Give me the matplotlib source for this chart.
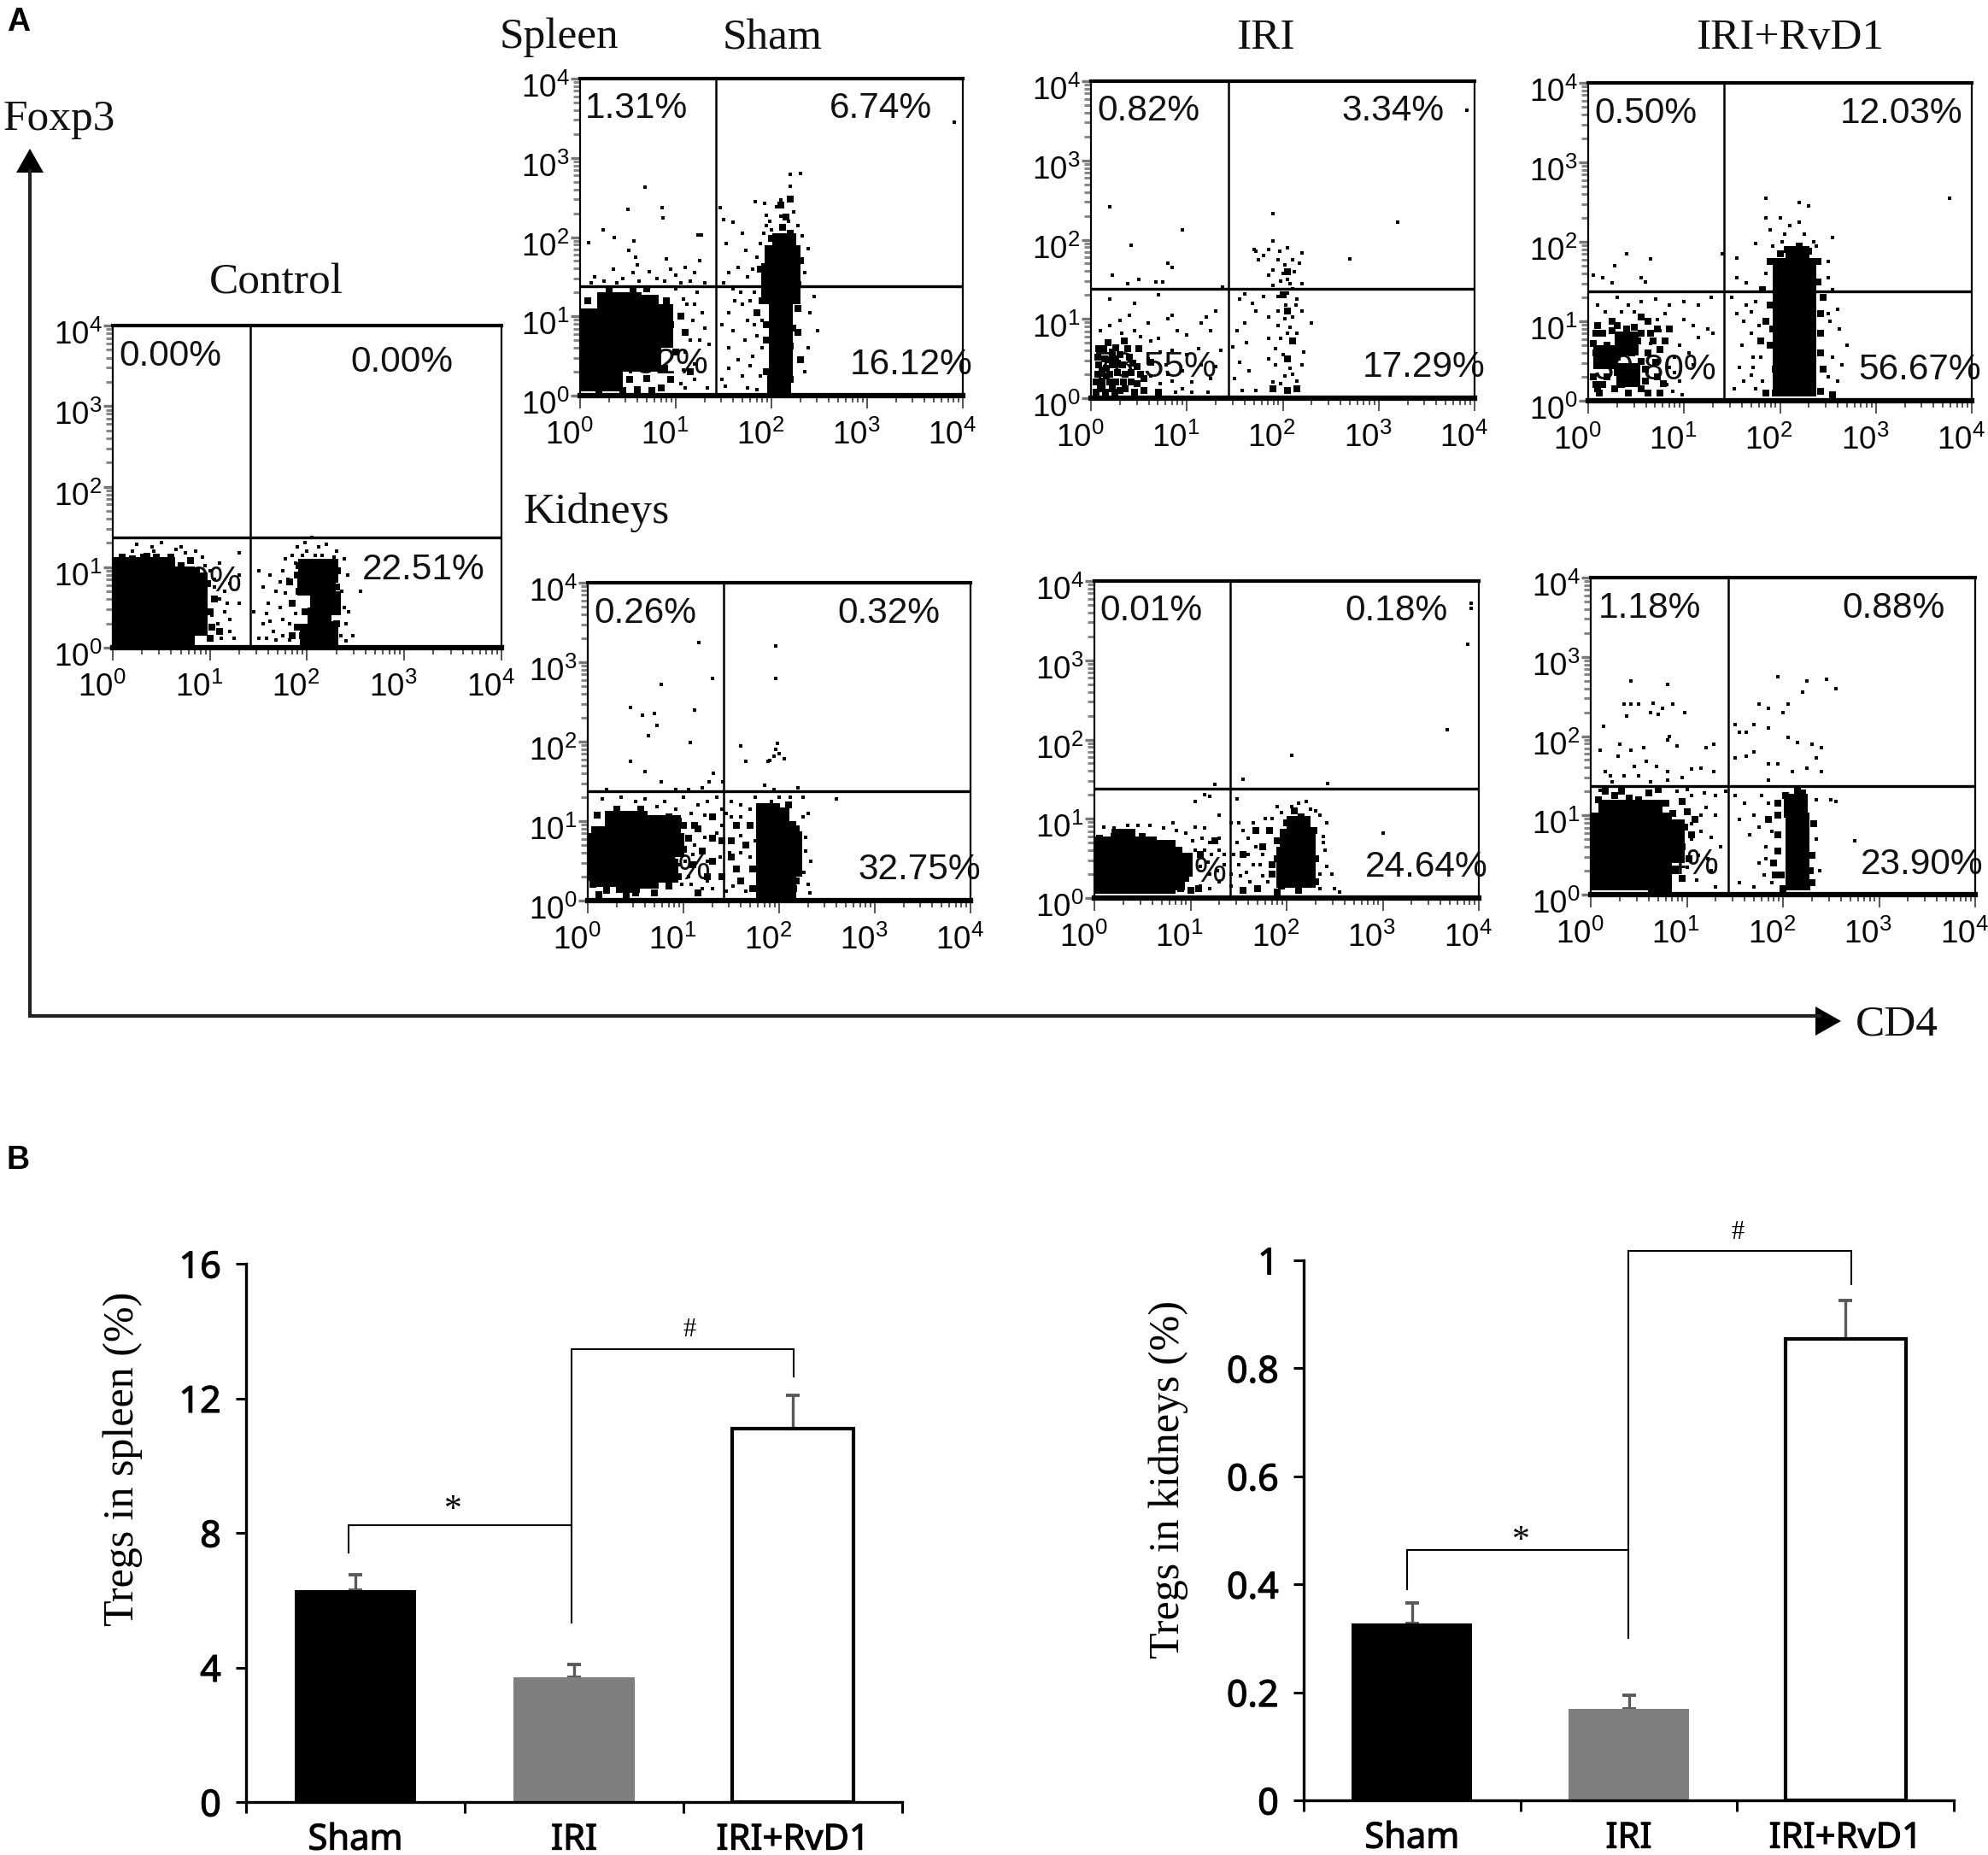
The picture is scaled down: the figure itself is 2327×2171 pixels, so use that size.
import numpy as np
import matplotlib
matplotlib.use('Agg')
import matplotlib.pyplot as plt
import matplotlib.patheffects as pe
from matplotlib.ticker import LogLocator, NullFormatter
from matplotlib.transforms import ScaledTranslation

W, H = 2327, 2171

plt.rcParams['mathtext.fontset'] = 'custom'
plt.rcParams['mathtext.rm'] = 'Liberation Sans'
plt.rcParams['font.family'] = ['Liberation Sans', 'DejaVu Sans']

# bar chart values
groups = ['Sham', 'IRI', 'IRI+RvD1']
spleen_means = [6.3, 3.7, 11.1]
spleen_errs = [0.45, 0.4, 1.0]
kidney_means = [0.327, 0.17, 0.855]
kidney_errs = [0.038, 0.025, 0.07]
bar_colors = ['black', '#7f7f7f', 'white']

# flow plots, all points given as (log10 CD4, log10 Foxp3)
# core = solid areas, clump = groups of events, dot = single events
control_core = [(.12,.18),(.32,.18),(.52,.18),(.72,.18),(.12,.42),(.32,.42),(.52,.42),(.72,.42),
                (.12,.66),(.32,.66),(.52,.66),(.72,.66),(.12,.86),(.32,.86),(.52,.86),(.72,.86),
                (.85,.3),(.85,.55),(.85,.78),(.12,.98),(.32,.98),(.52,.98),
                (2.13,.35),(2.15,.6),(2.17,.82),(2.02,.8),(2.22,.55),(2.05,.15),(2.2,.18),(2.2,.95),(2.03,.95)]
control_clump = [(.88,.3),(.9,.55),(.88,.75),(.86,.95),(.2,1.1),(.45,1.12),(.7,1.02),(1.92,.7),(1.9,.9),
                 (1.98,.45),(2.25,.15),(2.1,.13),(1.9,.25),(2.3,.3),(2.3,.75),(2.31,.95),(2.1,1.03),(1.85,.15),
                 (.35,1.14),(.6,1.12),(.8,1.08),(.98,.8),(1.0,.45),(1.05,.6),(1.1,.2),(1.85,.55),(1.95,.15),(2.0,1.05),
                 (.1,1.12),(1.92,1.02),(2.24,1.05),(1.82,.82),(1.02,.25),(1.0,.12)]
control_dot = [(.5,1.3),(.42,1.2),(.3,1.15),(.2,1.2),(.6,1.15),(.75,1.18),(.85,1.2),(.92,1.12),(1.0,.95),
               (1.05,.75),(1.1,.6),(1.15,.45),(1.02,.4),(1.08,.3),(1.2,.2),(1.25,.12),(1.3,.55),(1.3,.9),
               (1.3,1.18),(1.1,1.05),(1.2,.8),(1.5,.95),(1.55,.75),(1.62,.9),(1.68,.7),(1.6,.55),(1.72,.5),
               (1.55,.3),(1.65,.2),(1.5,.12),(1.75,.95),(1.8,.85),(1.78,1.1),(1.85,1.15),(1.9,1.25),(2.0,1.2),
               (2.12,1.25),(2.2,1.28),(2.3,1.2),(2.42,.9),(2.43,.45),(2.47,.15),(2.4,.3),(2.55,.7),(2.38,1.1),
               (1.45,.45),(1.58,.42),(1.82,.3),(1.75,.15),(2.05,1.37),
               (.25,1.28),(.65,1.22),(.4,1.25),(.7,1.25),(.95,1.02),(1.05,.85),(1.15,.7),(1.12,.12),(1.2,.35),(1.18,.55),
               (1.78,.68),(1.75,.35),(1.68,.1),(1.62,.33),(1.72,.82),(1.88,1.05),(1.95,1.15),(2.08,1.15),(2.15,1.15),(2.28,1.12),
               (2.36,.7),(2.38,.5),(2.35,.15),(2.4,.08),(1.82,.1),(1.88,.42),(1.58,.12),(1.98,1.3)]

spleen_sham_core = [(.12,.2),(.32,.2),(.12,.45),(.32,.45),(.52,.45),(.72,.45),(.12,.7),(.32,.7),(.52,.7),(.72,.7),
                    (.12,.95),(.32,.95),(.52,.95),(.72,.95),(.3,1.15),(.52,1.15),(.7,1.12),(.85,.75),(.85,1.0),
                    (2.1,.85),(2.1,1.08),(2.02,1.3),(2.18,1.3),(2.02,1.52),(2.18,1.52),(2.05,1.75),(2.18,1.75),(2.13,1.9),
                    (2.1,.62),(2.1,.4),(2.08,.18)]
spleen_sham_clump = [(.52,.2),(.7,.22),(.88,.35),(.08,1.2),(.95,.9),(1.0,.55),(2.05,.1),(2.1,.25),(2.02,.4),(2.18,.4),
                     (2.05,.55),(2.2,.62),(1.95,.7),(2.28,.8),(2.28,1.1),(2.28,1.4),(2.3,1.7),(1.9,1.2),(1.88,1.6),
                     (2.0,1.98),(2.2,2.05),(2.12,2.12),(.45,.07),(.2,.07),(.75,.07),(.7,1.35),(.55,1.32),(.3,1.33),
                     (.9,1.2),(1.05,1.0),(1.1,.8),(.95,.2),(1.15,.3),(.85,.1),(2.2,.2),(1.95,.3),(2.22,.85),(2.15,2.25),(2.1,2.4),
                     (2.2,2.48),(.6,.08),(1.95,.9),(1.85,1.05),(2.3,.45),(2.02,.72)]
spleen_sham_dot = [(.68,2.63),(.5,2.35),(.86,2.37),(.87,2.24),(.24,2.09),(.09,1.93),(.36,1.99),(.56,1.95),(.51,1.83),
                   (1.23,2.03),(1.27,2.03),(3.91,3.45),(1.46,2.37),(1.5,2.22),(1.6,2.19),(1.83,2.45),(1.93,2.43),
                   (2.1,2.47),(2.2,2.64),(2.2,2.79),(2.3,2.8),(2.1,2.26),(2.23,2.32),(2.0,2.09),(1.7,2.05),(1.53,1.92),
                   (1.73,1.83),(.35,1.6),(.55,1.55),(.6,1.65),(.58,1.75),(.9,1.72),(.95,1.6),(1.0,1.52),(1.1,1.62),(1.2,1.55),
                   (1.05,1.42),(.8,1.48),(.72,1.56),(.45,1.48),(.25,1.45),(.12,1.42),(1.15,1.45),(1.3,1.42),(1.25,1.7),
                   (1.55,1.55),(1.65,1.62),(1.75,1.5),(1.85,1.75),(1.8,1.6),(1.5,1.42),(1.62,1.2),(1.55,1.05),(1.7,1.15),
                   (1.75,.95),(1.48,.9),(1.6,.82),(1.72,.7),(1.55,.6),(1.8,.5),(1.48,.2),(1.52,.12),(1.7,.25),(1.75,.1),
                   (1.85,.08),(1.12,1.15),(1.18,.95),(1.28,1.05),(1.3,.85),(1.15,.7),(1.08,.32),(1.2,.4),(1.35,.65),
                   (1.2,.2),(1.33,.1),(2.45,1.25),(2.48,.82),(1.9,.95),(1.82,1.3),(2.35,.3),(2.38,.6),(2.4,1.05),(2.35,1.55),
                   (2.38,1.85),(1.95,2.28),(2.05,2.38),(2.18,2.2),
                   (.15,1.5),(.38,1.42),(.62,1.45),(.88,1.45),(1.0,1.35),(1.22,1.3),(1.08,1.22),(1.2,1.15),(1.1,.55),(1.25,.7),
                   (1.05,.15),(1.1,.1),(1.6,1.35),(1.68,1.3),(1.78,1.2),(1.82,.9),(1.85,.75),(1.78,.38),(1.88,.25),(1.9,.6),(1.65,.45),
                   (1.55,.35),(1.92,2.05),(1.95,2.15),(2.28,2.15),(2.32,2.02),(1.88,1.92),(1.98,2.2)]

spleen_iri_core = []
spleen_iri_clump = [(.12,.22),(.22,.12),(.28,.32),(.14,.5),(.3,.55),(.42,.2),(.18,.7),(.35,.72),(.12,.36),(.48,.4),
                    (.22,.42),(.36,.12),(.5,.62),(.1,.12),(.55,.1),(.7,.08),(1.9,.12),(2.05,.1),(2.15,.12),
                    (.08,.62),(.22,.58),(.16,.28),(.26,.2),(.05,.2),(.08,.42),(.33,.42),(.4,.52),(.42,.32),(.3,.1),(.15,.08),
                    (.45,.08),(.05,.08),(.2,.3),(.55,.25),(.62,.45),(.18,.48),(2.05,.5),(2.1,.72),(2.05,1.1),(2.0,1.3),(2.05,1.6),
                    (.07,.3),(.07,.52),(.13,.62),(.24,.5),(.26,.64),(.36,.3),(.34,.2),(.2,.2),(.12,.15),(.48,.18),(.25,.08),
                    (.38,.62),(.44,.44),(.52,.3),(.28,.44),(.16,.38)]
spleen_iri_dot = [(.2,2.42),(.95,2.12),(.42,1.93),(.8,1.7),(.85,1.65),(.22,1.55),(.38,1.45),(.5,1.5),(.68,1.47),(.75,1.47),
                  (1.37,1.4),(1.9,2.33),(3.2,2.22),(2.7,1.76),(3.92,3.63),(1.9,1.98),(1.85,1.88),(1.8,1.8),(1.95,1.75),
                  (1.7,1.88),(1.75,1.75),(1.72,1.85),(2.05,1.9),(2.2,1.83),(2.17,1.7),(2.02,1.68),(1.9,1.62),(1.85,1.55),
                  (2.0,1.57),(2.12,1.6),(1.98,1.48),(2.08,1.45),(2.2,1.45),(1.9,1.42),(1.6,1.32),(1.55,1.25),(1.68,1.2),
                  (1.72,1.1),(1.8,1.28),(2.05,1.33),(2.15,1.25),(2.03,1.18),(1.95,1.1),(2.1,1.02),(2.2,1.1),(2.3,.95),
                  (1.85,1.02),(1.95,.92),(2.08,.9),(2.15,.82),(1.85,.75),(1.98,.75),(2.12,.7),(2.22,.58),(2.0,.55),(1.92,.42),
                  (2.08,.38),(2.2,.42),(2.02,.28),(2.15,.22),(1.6,.95),(1.52,.85),(1.62,.7),(1.48,.65),(1.55,.45),(1.65,.35),
                  (1.5,.25),(1.58,.1),(1.72,.1),(.2,1.25),(.45,1.2),(.7,1.3),(.85,1.05),(.8,1.0),(.6,.95),(.4,1.05),(.3,.98),
                  (.9,.85),(1.0,.8),(1.15,.95),(1.25,.85),(1.2,1.02),(1.3,1.1),(1.0,.55),(.85,.6),(.7,.75),(.95,.35),(1.15,.42),
                  (1.25,.25),(1.05,.2),(.85,.22),(.78,.42),(.6,.5),(.62,.28),
                  (.1,.85),(.2,.92),(.32,.82),(.45,.85),(.52,.78),(.62,.72),(.72,.58),(.8,.3),(.72,.18),(.88,.08),(.95,.12),(1.05,.08),
                  (1.22,.08),(1.3,.4),(1.35,.6),(1.12,.62),(1.9,.2),(1.98,.18),(2.1,.3),(1.85,.5),(1.92,.62),(2.05,.82),(2.02,1.0),(2.14,1.18),
                  (2.1,1.38),(1.95,1.28),(2.05,1.5),(2.1,1.75),(1.97,1.85)]

spleen_rvd_core = [(2.05,.2),(2.05,.45),(2.05,.7),(2.05,.95),(2.05,1.2),(2.05,1.45),(2.05,1.65),
                   (2.25,.2),(2.25,.45),(2.25,.7),(2.25,.95),(2.25,1.2),(2.25,1.45),(2.25,1.65),(2.18,1.8),
                   (.18,.55),(.42,.32),(.4,.72)]
spleen_rvd_clump = [(.1,.15),(.1,.5),(.35,.2),(.55,.15),(.6,.4),(.4,.9),(.65,.85),(.1,.95),(.25,1.0),(.55,1.05),(.75,.65),
                    (.72,.3),(.38,.4),(.3,.55),(.62,.6),(1.85,.1),(1.8,.75),(1.85,1.0),(1.82,1.4),(2.45,.4),(2.42,.85),(2.45,1.3),
                    (1.9,1.75),(2.4,1.75),(2.0,1.85),(2.3,1.88),(1.95,.4),(2.42,.12),(2.55,.08),(.75,.1),(.85,.9),
                    (.2,.3),(.2,.7),(.45,.6),(.28,.15),(.05,.3),(.05,.72),(.18,.5),(.5,.28),(.42,.1),(.15,.85),(.32,.78),(.52,.75),(.7,.48),
                    (.12,.1),(.62,.1),(.3,.35),(.55,.5),(.08,.6),(.38,.68),(.25,.88),(.48,.92),(.62,1.0),(.8,.75),(1.95,.1),(1.9,.7),(1.9,1.2),
                    (2.42,.6),(2.42,1.1),(2.4,1.5),(2.2,1.95),(2.08,1.9),(1.92,.9),
                    (.6,.25),(.68,.75),(.72,.9),(.78,.22),(.08,.85),(.08,.2),(.55,.85),(.3,.95),(.15,.2)]
spleen_rvd_dot = [(3.77,2.55),(.4,1.85),(.65,1.78),(.28,1.7),(.05,1.58),(.15,1.55),(.25,1.48),(.55,1.55),(.6,1.5),(1.4,1.85),
                  (1.55,1.8),(1.85,2.55),(2.2,2.5),(2.3,2.45),(1.85,2.3),(2.0,2.3),(2.1,2.2),(2.2,2.25),(1.9,2.15),(2.05,2.1),(2.25,2.1),
                  (2.35,2.0),(1.75,1.98),(2.55,2.05),(2.5,1.75),(2.5,1.55),(1.55,1.55),(1.65,1.48),(.3,1.3),(.42,1.2),(.55,1.25),(.7,1.28),
                  (.85,1.2),(1.0,1.25),(.8,1.1),(1.15,1.2),(1.28,1.3),(1.0,1.02),(1.1,.95),(1.25,.9),(1.15,.8),(1.3,.85),(.95,.7),(1.05,.6),
                  (.9,.55),(1.1,.45),(.95,.25),(.88,.12),(.98,.08),(1.5,1.3),(1.55,1.1),(1.62,1.0),(1.7,.85),(1.6,.7),(1.72,.55),(1.58,.42),
                  (1.62,.25),(1.52,.15),(1.7,.32),(1.75,.15),(2.6,1.15),(2.62,.9),(2.7,.7),(2.55,.55),(2.65,.45),(2.6,.25),(2.52,1.0),
                  (.1,1.2),(.18,1.12),(.35,1.12),(.48,1.12),(.72,1.02),(.75,.88),(.85,.42),(.82,.2),(.65,.72),(.9,.35),(1.75,1.25),(1.7,1.12),
                  (1.78,.95),(1.72,.42),(1.82,.25),(1.8,.55),(1.65,1.2),(1.85,1.6),(1.92,1.95),(2.02,2.0),(2.38,1.95),(2.5,.3),(2.55,1.4),(2.5,1.1)]

kidney_sham_core = [(.2,.32),(.42,.25),(.62,.3),(.16,.55),(.38,.55),(.6,.55),(.78,.55),(.16,.78),(.38,.78),(.6,.78),(.78,.72),
                    (.3,.98),(.5,.98),(.68,.92),(.82,.38),(.88,.7),(.08,.4),(.08,.7),(.85,.92),
                    (1.88,.32),(2.05,.35),(1.88,.6),(2.05,.6),(1.88,.85),(2.05,.85),(1.98,1.02),
                    (1.88,.14),(2.05,.14),(2.12,.45),(2.12,.72),(1.88,1.08)]
kidney_sham_clump = [(.05,.2),(.05,.5),(.06,.8),(.2,.13),(.5,.1),(.3,1.15),(.55,1.15),(.85,1.05),(.1,1.08),(.93,.8),(1.0,.65),
                     (.85,.18),(1.0,.95),(1.15,.9),(1.3,1.05),(1.4,.75),(1.55,.95),(1.65,.7),(1.7,.95),(1.72,.4),(1.72,.15),
                     (1.95,.13),(2.15,.15),(2.2,.5),(2.18,.9),(1.85,1.18),(2.1,1.2),(1.4,.3),(1.55,.4),(1.3,.5),(1.1,.45),(1.15,.1),(.4,.07),
                     (1.05,.78),(1.2,.62),(1.12,.95),(1.3,.78),(1.5,.55),(1.5,.75),(1.6,.25),(1.25,.3),(.95,.3),(.12,.08),(.7,.1),(.95,1.0),(2.18,.25),(2.2,.7)]
kidney_sham_dot = [(1.16,3.25),(1.96,3.2),(1.96,2.8),(.77,2.72),(1.3,2.8),(.45,2.43),(.7,2.35),(.57,2.33),(1.12,2.4),(.72,2.2),
                   (.63,2.07),(1.07,1.99),(1.6,1.95),(1.98,1.98),(1.96,1.9),(2.0,1.85),(1.95,1.82),(2.05,1.78),(1.9,1.76),(1.65,1.75),
                   (1.88,1.75),(.45,1.75),(.6,1.62),(.77,1.5),(1.31,1.6),(1.27,1.5),(1.41,1.5),(.92,1.4),(.2,1.4),(1.2,1.42),(1.05,1.4),
                   (1.85,1.45),(1.95,1.4),(2.2,1.42),(2.6,1.28),(.15,1.28),(.35,1.3),(.6,1.28),(.8,1.25),(1.0,1.3),(1.15,1.2),(1.25,1.25),(1.35,1.3),
                   (1.5,1.25),(1.6,1.2),(1.75,1.3),(2.25,1.3),(2.3,1.1),(2.28,.8),(2.33,.5),(2.3,.2),(2.32,.1),(1.12,.7),(1.22,.8),(1.05,.3),(.98,.2),
                   (1.25,.25),(1.48,.6),(1.52,.18),(1.62,.25),(1.35,.85),(1.45,1.1),(1.6,1.05),
                   (.5,1.25),(.72,1.18),(.92,1.15),(1.08,1.1),(1.22,1.08),(1.4,1.15),(1.5,1.05),(1.7,1.15),(1.1,.58),(1.25,.5),(1.38,.55),(1.6,.6),(1.7,.55),
                   (1.08,.2),(1.3,.15),(1.45,.12),(1.65,.12),(1.4,.95),(1.2,.15),(1.75,.75),(1.6,.82),(.95,.45),(1.02,.5),(1.92,1.25),(2.0,1.3),(2.12,1.3),
                   (2.25,1.05),(2.28,.62),(2.26,.35)]

kidney_iri_core = [(.12,.2),(.32,.2),(.52,.2),(.72,.2),(.12,.42),(.32,.42),(.52,.42),(.72,.4),(.12,.62),(.32,.62),(.52,.62),
                   (2.02,.28),(2.18,.28),(2.02,.5),(2.18,.5),(2.05,.72),(2.18,.72),(2.12,.88),(.82,.25),(.9,.42),(.72,.58),(.3,.72)]
kidney_iri_clump = [(.05,.75),(.2,.78),(.35,.82),(.5,.78),(.65,.68),(.75,.6),(.9,.12),(1.0,.1),(1.95,.15),(1.9,.5),(1.9,.72),
                    (2.3,.2),(2.3,.5),(2.28,.85),(2.0,.95),(2.15,1.02),(2.2,.98),(1.82,.85),(1.85,.42),(1.7,.12),(1.55,.1),(1.85,.3),
                    (1.08,.12),(.92,.42),(1.1,.55),(1.25,.72),(1.55,.55),(1.75,.65),(1.68,.85),(2.08,1.1),(2.12,.1),(1.9,.08),(.88,.6),(.95,.25)]
kidney_iri_dot = [(1.25,1.43),(1.15,1.3),(1.05,1.22),(1.2,1.28),(1.3,1.05),(1.15,.88),(1.05,.9),(.95,.82),(.85,.85),(.72,.88),(.58,.92),(.1,.9),
                  (.2,.88),(.35,.92),(.45,.92),(.82,.95),(1.55,1.5),(2.43,1.45),(2.05,1.8),(3.67,2.12),(3.88,3.2),(3.92,3.65),(3.92,3.72),
                  (3.0,.82),(1.48,1.25),(1.42,.95),(1.3,.75),(1.2,.7),(1.3,.6),(1.15,.6),(1.05,.6),(.95,.55),(1.0,.35),(1.1,.4),(1.2,.3),(1.3,.2),
                  (1.55,.85),(1.6,.75),(1.48,.7),(1.68,.65),(1.6,.55),(1.5,.42),(1.65,.42),(1.75,.55),(1.52,.28),(1.75,.28),(1.35,.42),(1.42,.15),
                  (2.05,1.15),(2.12,1.2),(2.2,1.22),(1.95,1.08),(1.85,1.0),(2.38,.78),(2.42,.95),(2.4,.6),(2.42,.4),(2.5,.12),(2.55,.08),(2.47,.3),
                  (2.35,1.05),(2.3,1.1),(1.1,.15),(1.2,.12),
                  (1.02,.72),(1.12,.75),(1.22,.55),(1.35,.55),(1.28,.35),(1.18,.45),(1.62,.2),(1.45,.55),(1.72,.42),(1.8,.2),(1.65,.95),(1.78,1.0),(1.5,.95),
                  (1.58,.32),(1.42,.3),(2.35,.3),(2.35,.12),(2.38,.7),(1.9,1.15),(2.25,1.12)]

kidney_rvd_core = [(.12,.2),(.32,.2),(.52,.2),(.72,.18),(.12,.42),(.32,.42),(.52,.42),(.72,.42),(.12,.65),(.32,.65),(.52,.65),(.72,.65),
                   (.12,.88),(.32,.88),(.52,.88),(.72,.88),(.2,1.05),(.42,1.05),(.62,1.05),(.85,.55),(.85,.8),(2.15,.2),(2.15,.42),(2.15,.65),(2.15,.88),(2.13,1.12)]
kidney_rvd_clump = [(.88,.3),(.95,.2),(.95,.6),(.98,.85),(.85,1.02),(.78,1.15),(.6,1.28),(.4,1.22),(.25,1.25),(.08,1.2),(.7,1.33),(.5,1.2),
                    (1.0,1.05),(2.15,1.32),(2.03,1.25),(1.95,1.0),(1.95,.55),(1.98,.25),(2.25,.1),(2.0,.08),(2.3,.5),(2.32,.9),(1.95,.75),(2.28,.3),(1.85,.95),
                    (1.05,.75),(1.02,.45),(1.08,.95),(.95,1.18),(1.9,.4),(2.2,1.28),(.32,1.3),(.15,1.3),(.58,1.15),(1.92,.25),(2.3,.15),(1.95,1.15)]
kidney_rvd_dot = [(.42,2.7),(.8,2.65),(.35,2.4),(.42,2.4),(.5,2.4),(.65,2.42),(.75,2.35),(.85,2.4),(.98,2.3),(.62,2.3),(.7,2.28),(.37,2.25),
                  (.82,2.0),(.13,2.12),(.8,1.95),(.9,1.88),(.3,1.9),(.55,1.85),(.42,1.82),(.28,1.75),(.1,1.82),(.45,1.62),(.58,1.68),(.68,1.62),
                  (.8,1.55),(.15,1.55),(.2,1.5),(.35,1.5),(.5,1.5),(.95,1.48),(1.05,1.58),(1.2,1.85),(1.28,1.9),(1.15,1.6),(1.28,1.55),
                  (1.95,2.75),(2.25,2.7),(2.45,2.72),(2.55,2.6),(2.2,2.55),(1.75,2.4),(1.85,2.35),(2.05,2.4),(2.0,2.3),(1.7,2.15),(1.5,2.15),(1.55,2.05),
                  (1.85,2.1),(1.62,2.05),(2.05,1.98),(2.15,1.92),(2.3,1.9),(2.4,1.85),(2.35,1.72),(1.7,1.8),(1.62,1.75),(1.5,1.72),(1.85,1.65),(1.95,1.65),
                  (2.1,1.55),(2.25,1.6),(2.4,1.55),(1.85,1.45),(2.5,1.2),(2.55,1.18),(2.75,.68),(1.5,1.25),(1.6,1.15),(1.7,1.0),(1.55,.95),(1.65,.75),(1.75,.85),(1.82,.6),
                  (1.75,.4),(1.8,.25),(1.55,.15),(1.7,.1),(1.05,.9),(1.15,.8),(1.05,.7),(1.2,1.1),(1.3,1.0),(1.12,.5),(1.0,.35),(1.25,.3),(1.1,.18),(1.3,.1),(1.4,1.3),(1.35,.6),
                  (1.05,1.25),(1.18,1.28),(1.3,1.25),(1.15,1.0),(1.25,.72),(1.22,.45),(1.85,1.15),(1.78,1.25),(1.88,.8),(1.82,.45),(1.88,.15),(2.35,1.2),(2.35,.7),(2.38,.3),
                  (.1,1.32),(.9,1.3),(1.0,1.33),(.22,1.42),(.62,1.42),(.8,1.45)]

# name, left, top, right, bottom of each plot box in the picture, quadrant gates in decades
panels = [
    ('control', 132, 381, 587, 758, 1.415, 1.37, control_core, control_clump, control_dot),
    ('spleen_sham', 679, 92, 1127, 463, 1.42, 1.38, spleen_sham_core, spleen_sham_clump, spleen_sham_dot),
    ('spleen_iri', 1277, 95, 1726, 466, 1.43, 1.38, spleen_iri_core, spleen_iri_clump, spleen_iri_dot),
    ('spleen_rvd', 1859, 97, 2308, 469, 1.417, 1.376, spleen_rvd_core, spleen_rvd_clump, spleen_rvd_dot),
    ('kidney_sham', 688, 682, 1136, 1054, 1.42, 1.376, kidney_sham_core, kidney_sham_clump, kidney_sham_dot),
    ('kidney_iri', 1281, 680, 1731, 1051, 1.413, 1.38, kidney_iri_core, kidney_iri_clump, kidney_iri_dot),
    ('kidney_rvd', 1862, 676, 2312, 1047, 1.428, 1.37, kidney_rvd_core, kidney_rvd_clump, kidney_rvd_dot),
]

# quadrant percent labels, centre in picture pixels
pct_labels = [
    ('0.00%', 199, 417), ('0.00%', 470, 424), ('22.51%', 496, 667), ('77.49%', 212, 681),
    ('1.31%', 745, 127), ('6.74%', 1031, 127), ('16.12%', 1067, 427), ('75.82%', 758, 426),
    ('0.82%', 1344, 130), ('3.34%', 1631, 130), ('17.29%', 1667, 430), ('78.55%', 1353, 430),
    ('0.50%', 1926, 133), ('12.03%', 2226, 133), ('56.67%', 2247, 433), ('30.80%', 1937, 433),
    ('0.26%', 755, 718), ('0.32%', 1040, 718), ('32.75%', 1076, 1018), ('66.68%', 761, 1018),
    ('0.01%', 1347, 715), ('0.18%', 1634, 715), ('24.64%', 1670, 1015), ('75.17%', 1365, 1021),
    ('1.18%', 1931, 712), ('0.88%', 2217, 712), ('23.90%', 2250, 1012), ('74.04%', 1941, 1012),
]
serif_labels = [
    ('Spleen', 654, 44), ('Sham', 904, 45), ('IRI', 1481, 45), ('IRI+RvD1', 2095, 45),
    ('Control', 323, 331), ('Kidneys', 698, 600), ('Foxp3', 69, 140), ('CD4', 2220, 1199),
]


def px_axes(left, top, right, bottom):
    ax = fig.add_axes([left / W, 1 - bottom / H, (right - left) / W, (bottom - top) / H])
    ax.patch.set_alpha(0)
    return ax


def flow_panel(left, top, right, bottom, vgate, hgate, core, clump, dot):
    ax = px_axes(left, top, right, bottom)
    ax.set_xscale('log')
    ax.set_yscale('log')
    ax.set_xlim(1, 1e4)
    ax.set_ylim(1, 1e4)
    for pts, size in ((core, 420), (clump, 40), (dot, 11)):
        if pts:
            arr = np.array(pts)
            ax.scatter(10 ** arr[:, 0], 10 ** arr[:, 1], s=size, marker='s', c='black', linewidths=0, zorder=2)
    ax.axvline(10 ** vgate, color='black', lw=1.8, zorder=3)
    ax.axhline(10 ** hgate, color='black', lw=2.4, zorder=3)
    for name, lw in (('top', 3), ('bottom', 4.5), ('left', 1.6), ('right', 1.6)):
        ax.spines[name].set_linewidth(lw)
    decades = [1, 10, 100, 1000, 10000]
    labels = ['$\\mathdefault{10^{%d}}$' % i for i in range(5)]
    for axis in (ax.xaxis, ax.yaxis):
        axis.set_major_locator(LogLocator(base=10, numticks=6))
        axis.set_minor_locator(LogLocator(base=10, subs=range(2, 10), numticks=6))
        axis.set_minor_formatter(NullFormatter())
    ax.set_xticks(decades, labels)
    ax.set_yticks(decades, labels)
    ax.tick_params(axis='x', which='major', length=11, width=1.4, color='#555555', labelsize=26.5, pad=10)
    ax.tick_params(axis='x', which='minor', length=6, width=1.4, color='#555555')
    ax.tick_params(axis='y', which='major', length=8, width=2.4, color='#777777', labelsize=26.5, pad=1)
    ax.tick_params(axis='y', which='minor', length=6, width=2.2, color='#888888')
    # labels sit a bit left of and below their ticks in the original
    shift_x = ScaledTranslation(-13 / 100, 0, fig.dpi_scale_trans)
    shift_y = ScaledTranslation(0, -8 / 100, fig.dpi_scale_trans)
    for lab in ax.get_xticklabels():
        lab.set_transform(lab.get_transform() + shift_x)
    for lab in ax.get_yticklabels():
        lab.set_transform(lab.get_transform() + shift_y)
    return ax


def bar_panel(left, top, right, bottom, means, errs, ymax, yticks, yticklabels, ylabel, ylabel_x, ylabel_y):
    ax = px_axes(left, top, right, bottom)
    x = [0.5, 1.5, 2.5]
    for i in range(3):
        edge = 'black' if bar_colors[i] == 'white' else bar_colors[i]
        lw = 3 if bar_colors[i] == 'white' else 0
        ax.bar(x[i], means[i], width=0.555, color=bar_colors[i], edgecolor=edge, linewidth=lw, zorder=2)
        ax.errorbar(x[i], means[i], yerr=[[0], [errs[i]]], color='#595959', elinewidth=2.4, capsize=6, capthick=2.8, zorder=1)
    ax.set_xlim(0, 3)
    ax.set_ylim(0, ymax)
    ax.spines['top'].set_visible(False)
    ax.spines['right'].set_visible(False)
    ax.spines['left'].set_linewidth(2.4)
    ax.spines['bottom'].set_linewidth(2.4)
    ax.set_xticks([0, 1, 2, 3], [])
    ax.set_xticks(x, groups, minor=True)
    ax.tick_params(axis='x', which='major', length=9, width=2.2)
    ax.tick_params(axis='x', which='minor', length=0, labelsize=30, pad=17)
    ax.set_yticks(yticks, yticklabels)
    ax.tick_params(axis='y', length=9, width=2.2, labelsize=31, pad=12)
    for lab in ax.get_xticklabels(minor=True) + ax.get_yticklabels():
        lab.set_fontfamily(['Noto Sans', 'DejaVu Sans'])
        lab.set_path_effects([pe.withStroke(linewidth=0.8, foreground='black')])
    ax.text(ylabel_x, ylabel_y, ylabel, transform=ax.transAxes, rotation=90, ha='center', va='center',
            family='Liberation Serif', fontsize=36)
    return ax


def bracket(ax, xs, ys):
    ax.plot(xs, ys, color='black', lw=1.5, clip_on=False, solid_joinstyle='miter', zorder=4)


fig = plt.figure(figsize=(W / 100, H / 100), dpi=100)

# overlay in picture pixels for the big arrows and the lettering, it sits under the plots
bg = fig.add_axes([0, 0, 1, 1])
bg.set_xlim(0, W)
bg.set_ylim(H, 0)
bg.axis('off')
bg.plot([35, 35, 2130], [200, 1189, 1189], color='#222222', lw=3, solid_joinstyle='miter')
bg.fill([35, 19, 51], [174, 202, 202], color='black', lw=0)
bg.fill([2155, 2125, 2125], [1195, 1178, 1212], color='black', lw=0)
for txt, px, py in pct_labels:
    bg.text(px, py, txt, ha='center', va='center', fontsize=30.5, color='#111111')
for txt, px, py in serif_labels:
    bg.text(px, py, txt, ha='center', va='center', family='Liberation Serif', fontsize=37, color='#111111')
bg.text(8, 26, 'A', ha='left', va='center', fontsize=27, fontweight='bold')
bg.text(8, 1358, 'B', ha='left', va='center', fontsize=27, fontweight='bold')
bg.text(530, 1768, '*', ha='center', va='center', family='Liberation Serif', fontsize=30)
bg.text(807, 1556, '#', ha='center', va='center', family='Liberation Serif', fontsize=22)
bg.text(1780, 1804, '*', ha='center', va='center', family='Liberation Serif', fontsize=30)
bg.text(2034, 1442, '#', ha='center', va='center', family='Liberation Serif', fontsize=22)

for p in panels:
    flow_panel(*p[1:])

ax_s = bar_panel(288, 1479, 1056, 2109, spleen_means, spleen_errs, 16, [0, 4, 8, 12, 16],
                 ['0', '4', '8', '12', '16'], 'Tregs in spleen (%)', -0.188, 0.637)
bracket(ax_s, [0.469, 0.469, 1.488], [7.41, 8.24, 8.24])
bracket(ax_s, [1.488, 1.488, 2.505, 2.505], [5.33, 13.45, 13.45, 12.64])

ax_k = bar_panel(1526, 1475, 2287, 2107, kidney_means, kidney_errs, 1, [0, 0.2, 0.4, 0.6, 0.8, 1],
                 ['0', '0.2', '0.4', '0.6', '0.8', '1'], 'Tregs in kidneys (%)', -0.208, 0.594)
bracket(ax_k, [0.477, 0.477, 1.498], [0.391, 0.463, 0.463])
bracket(ax_k, [1.498, 1.498, 2.527, 2.527], [0.301, 1.018, 1.018, 0.956])

fig.savefig('out.png', dpi=100)
